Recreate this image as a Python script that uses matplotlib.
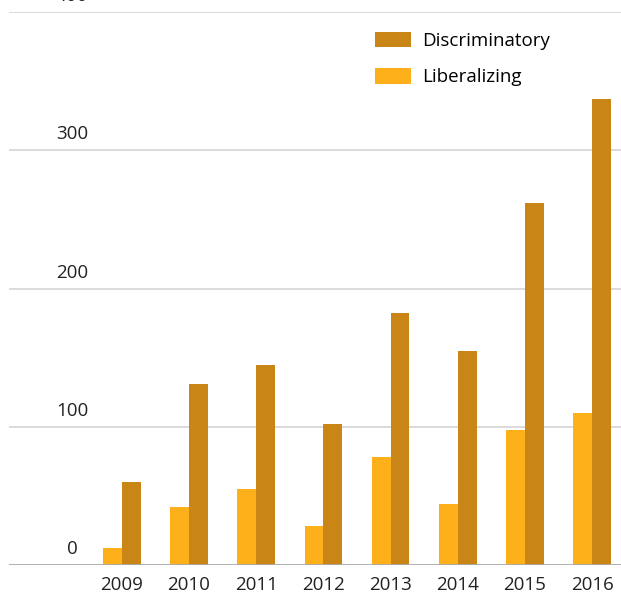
import numpy as np
import matplotlib
matplotlib.use('Agg')
import matplotlib.pyplot as plt
from matplotlib.transforms import blended_transform_factory

years = ['2009', '2010', '2011', '2012', '2013', '2014', '2015', '2016']
discriminatory = [60, 131, 145, 102, 182, 155, 262, 337]
liberalizing = [12, 42, 55, 28, 78, 44, 98, 110]
y_ticks = [0, 100, 200, 300, 400]

plt.rcParams['font.family'] = ['Open Sans', 'DejaVu Sans']

W, H = 621, 595
fig = plt.figure(figsize=(W / 100, H / 100), dpi=100)
# axes from x=9 to 621 px, y=565 (0) to 12 (400)
ax = fig.add_axes([9 / W, (H - 565) / H, 1 - 9 / W, (565 - 12) / H])

x = np.arange(len(years))
w = 0.28
c_dis = '#CA8517'
c_lib = '#FDB019'
b1 = ax.bar(x - w / 2, liberalizing, w, color=c_lib, label='Liberalizing', zorder=2)
b2 = ax.bar(x + w / 2, discriminatory, w, color=c_dis, label='Discriminatory', zorder=2)

ax.set_xlim(-1.68, 7.43)
ax.set_ylim(0, 400)

for t in y_ticks[1:]:
    ax.axhline(t, color='#d4d4d4', lw=1.2, zorder=1)
ax.axhline(0, color='#aaaaaa', lw=2, zorder=3)

trans = blended_transform_factory(fig.transFigure, ax.transData)
for t in y_ticks:
    ax.annotate(str(t), xy=(72 / W, t), xycoords=trans, xytext=(0, 5),
                textcoords='offset points', ha='center', va='bottom',
                fontsize=13.5, color='#222222', annotation_clip=False)

ax.set_xticks(x)
ax.set_xticklabels(years, fontsize=13.5, color='#222222')
ax.tick_params(axis='x', length=0, pad=8)
ax.set_yticks([])
for s in ax.spines.values():
    s.set_visible(False)

ax.legend(handles=[b2, b1], loc='upper left', bbox_to_anchor=(358 / W, 1 - 15 / H),
          bbox_transform=fig.transFigure, frameon=False, fontsize=13.5,
          handlelength=1.95, handleheight=0.9, handletextpad=0.55, labelspacing=0.95)

fig.savefig('out.png', dpi=100)
